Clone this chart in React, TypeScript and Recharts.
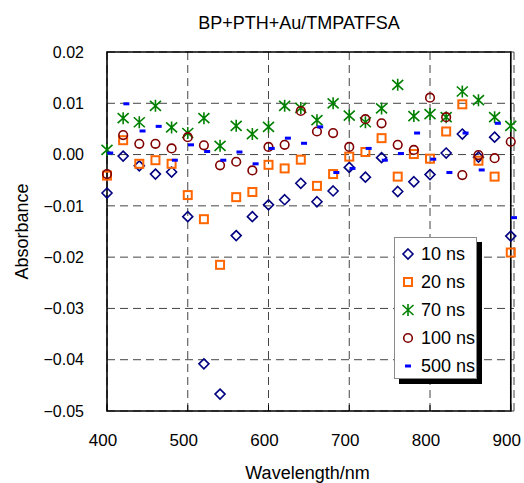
import {
  ScatterChart,
  Scatter,
  XAxis,
  YAxis,
  CartesianGrid,
  ReferenceArea,
  Legend,
} from "recharts";

const wavelengths = [400, 420, 440, 460, 480, 500, 520, 540, 560, 580, 600, 620, 640, 660, 680, 700, 720, 740, 760, 780, 800, 820, 840, 860, 880, 900];
const wavelengths500 = [404, 424, 444, 464, 484, 504, 524, 544, 564, 584, 604, 624, 644, 664, 684, 704, 724, 744, 764, 784, 804, 824, 844, 864, 884, 904];

const abs10 = [-0.0075, -0.0003, -0.0022, -0.0038, -0.0034, -0.0121, -0.0408, -0.0467, -0.0158, -0.0121, -0.0098, -0.0088, -0.0056, -0.0092, -0.0071, -0.0025, -0.0044, -0.0006, -0.0072, -0.0053, -0.0039, 0.0003, 0.004, -0.0005, 0.0034, -0.0159];
const abs20 = [-0.0041, 0.0028, -0.0018, -0.0011, -0.0018, -0.0079, -0.0126, -0.0215, -0.0083, -0.0073, -0.002, -0.0027, -0.001, -0.0061, -0.0038, -0.0004, 0.0005, 0.0032, -0.0043, 0.0001, -0.0008, 0.0045, 0.0098, -0.0012, -0.0043, -0.0191];
const abs70 = [0.0009, 0.0071, 0.0063, 0.0095, 0.0053, 0.0042, 0.0071, 0.0017, 0.0056, 0.004, 0.0054, 0.0095, 0.0091, 0.0067, 0.01, 0.0076, 0.0063, 0.009, 0.0136, 0.0075, 0.0079, 0.0073, 0.0123, 0.0106, 0.0073, 0.0056];
const abs100 = [-0.0038, 0.0038, 0.0021, 0.0021, 0.0012, 0.0034, 0.0018, -0.0021, -0.0014, -0.0031, 0.0015, 0.0019, 0.0085, 0.0045, 0.0042, 0.0015, 0.0069, 0.0061, 0.0019, 0.0009, 0.0111, 0.0073, -0.004, -0.0001, -0.0007, 0.0025];
const abs500 = [0.0003, 0.0099, 0.0046, 0.0055, -0.0011, 0.0019, 0.0006, -0.0011, 0.0005, -0.0018, 0.0012, 0.0032, 0.0022, 0.0054, -0.0035, -0.0027, 0.0012, -0.0011, 0.0002, 0.0042, -0.0009, -0.0035, 0.0042, -0.003, 0.0061, -0.0123];

const xTicks = [400, 500, 600, 700, 800, 900];
const yTicks = [-0.05, -0.04, -0.03, -0.02, -0.01, 0, 0.01, 0.02];

const FONT = '"Liberation Sans", Arial, sans-serif';

const toPoints = (xs: number[], ys: number[]) => xs.map((x, i) => ({ x, y: ys[i] }));

type MarkProps = { cx?: number; cy?: number };

const Diamond = ({ cx = 0, cy = 0 }: MarkProps) => (
  <path
    d={`M${cx},${cy - 5} L${cx + 5},${cy} L${cx},${cy + 5} L${cx - 5},${cy} Z`}
    fill="none"
    stroke="#000080"
    strokeWidth={1.6}
  />
);

const Square = ({ cx = 0, cy = 0 }: MarkProps) => (
  <rect x={cx - 4} y={cy - 4} width={8} height={8} fill="none" stroke="#ff6600" strokeWidth={2} />
);

const Star = ({ cx = 0, cy = 0 }: MarkProps) => (
  <path
    d={`M${cx},${cy - 6} L${cx},${cy + 6} M${cx - 5.5},${cy - 5} L${cx + 5.5},${cy + 5} M${cx - 5.5},${cy + 5} L${cx + 5.5},${cy - 5}`}
    stroke="#008000"
    strokeWidth={1.6}
    fill="none"
  />
);

const Ring = ({ cx = 0, cy = 0 }: MarkProps) => (
  <circle cx={cx} cy={cy} r={4.3} fill="none" stroke="#800000" strokeWidth={1.6} />
);

const Dash = ({ cx = 0, cy = 0 }: MarkProps) => (
  <rect x={cx - 3} y={cy - 1.5} width={6} height={3} fill="#0000ff" />
);

const series = [
  { name: "10 ns", data: toPoints(wavelengths, abs10), Mark: Diamond, color: "#000080" },
  { name: "20 ns", data: toPoints(wavelengths, abs20), Mark: Square, color: "#ff6600" },
  { name: "70 ns", data: toPoints(wavelengths, abs70), Mark: Star, color: "#008000" },
  { name: "100 ns", data: toPoints(wavelengths, abs100), Mark: Ring, color: "#800000" },
  { name: "500 ns", data: toPoints(wavelengths500, abs500), Mark: Dash, color: "#0000ff" },
];

const xMax = Math.max(...wavelengths, ...wavelengths500);

const fmtY = (v: number) => (v < 0 ? "\u2212" : "") + Math.abs(v).toFixed(2);

function LegendBox({ payload }: any) {
  // keep the series order, recharts sorts the payload by name
  const shown = new Set((payload ?? []).map((p: any) => p.value));
  return (
    <div
      style={{
        width: 83,
        height: 142,
        boxSizing: "border-box",
        background: "#fff",
        border: "1px solid #8a8a8a",
        boxShadow: "5px 5px 0 #000",
        paddingTop: 2,
        fontFamily: FONT,
        fontSize: 18,
        color: "#000",
      }}
    >
      {series
        .filter((s) => shown.has(s.name))
        .map((s) => {
          const M = s.Mark;
          return (
            <div key={s.name} style={{ display: "flex", alignItems: "center", height: 28 }}>
              <svg width={22} height={28} style={{ flex: "none" }}>
                <M cx={13} cy={14} />
              </svg>
              <span style={{ marginLeft: 4, whiteSpace: "nowrap" }}>{s.name}</span>
            </div>
          );
        })}
    </div>
  );
}

export default function App() {
  return (
    <div style={{ position: "absolute", left: 0, top: 0, width: 524, height: 483, fontFamily: FONT, background: "#fff" }}>
      <div
        style={{
          position: "absolute",
          left: 99,
          top: 12,
          width: 400,
          textAlign: "center",
          fontSize: 18,
          lineHeight: "22px",
          color: "#000",
        }}
      >
        BP+PTH+Au/TMPATFSA
      </div>
      <ScatterChart width={524} height={483} margin={{ top: 51, right: 10, bottom: 0, left: 0 }}>
        <CartesianGrid stroke="#444" strokeDasharray="8 5" strokeWidth={1} />
        <XAxis
          type="number"
          dataKey="x"
          domain={[400, xMax]}
          ticks={xTicks}
          height={72}
          axisLine={false}
          tickSize={-6}
          tickMargin={29}
          tickLine={{ stroke: "#000", strokeWidth: 1 }}
          tick={{ fill: "#000", fontSize: 17, dx: -4 }}
          label={{ value: "Wavelength/nm", position: "insideBottom", offset: 4, dx: -3, fill: "#000", fontSize: 18 }}
        />
        <XAxis
          xAxisId="top"
          orientation="top"
          type="number"
          domain={[400, xMax]}
          allowDataOverflow
          ticks={xTicks}
          height={1}
          axisLine={false}
          tickSize={-6}
          tick={false}
          tickLine={{ stroke: "#000", strokeWidth: 1 }}
        />
        <YAxis
          type="number"
          dataKey="y"
          domain={[-0.05, 0.02]}
          ticks={yTicks}
          width={107}
          axisLine={false}
          tickLine={false}
          tickSize={0}
          tickMargin={23}
          tickFormatter={fmtY}
          tick={{ fill: "#000", fontSize: 16 }}
          label={{
            value: "Absorbance",
            angle: -90,
            position: "insideLeft",
            offset: 22,
            fill: "#000",
            fontSize: 18,
            style: { textAnchor: "middle" },
          }}
        />
        <ReferenceArea x1={400} x2={900} y1={-0.05} y2={0.02} fill="none" fillOpacity={0} stroke="#000" strokeWidth={1.6} />
        {series.map((s) => (
          <Scatter
            key={s.name}
            name={s.name}
            data={s.data}
            fill={s.color}
            shape={(p: any) => <s.Mark cx={p.cx} cy={p.cy} />}
            isAnimationActive={false}
          />
        ))}
        <Legend
          layout="vertical"
          align="center"
          verticalAlign="middle"
          content={<LegendBox />}
          wrapperStyle={{ left: 394, top: 237, width: 83, height: 142 }}
        />
      </ScatterChart>
    </div>
  );
}
